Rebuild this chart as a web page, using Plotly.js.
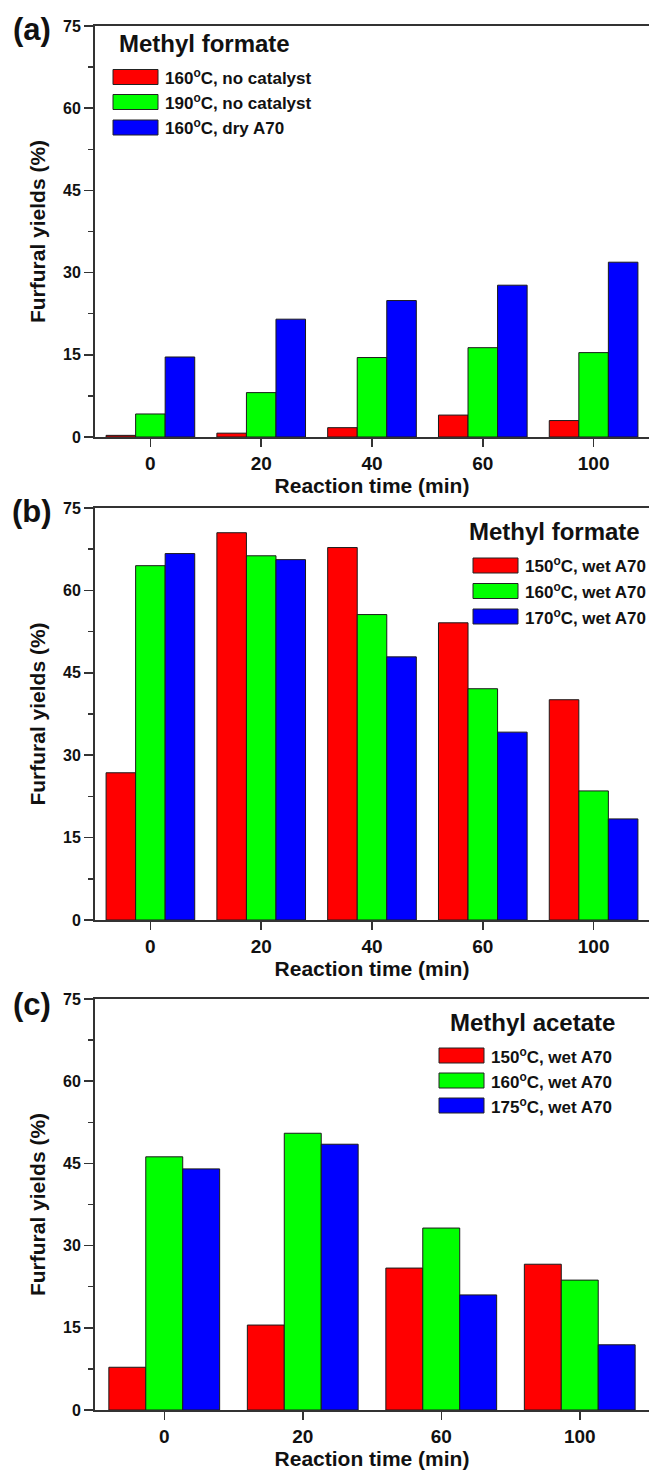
<!DOCTYPE html>
<html>
<head>
<meta charset="utf-8">
<script src="https://cdn.plot.ly/plotly-3.0.1.min.js"></script>
<style>
  html, body { margin: 0; padding: 0; background: #fff; }
  #chart { width: 649px; height: 1471px; }
</style>
</head>
<body>
<div id="chart"></div>
<script>
// Furfural yields over reaction time, three panels
const timesA = ['0', '20', '40', '60', '100'];
const timesB = ['0', '20', '40', '60', '100'];
const timesC = ['0', '20', '60', '100'];

// (a) Methyl formate, catalyst screening
const namesA = ['160<sup>o</sup>C, no catalyst', '190<sup>o</sup>C, no catalyst', '160<sup>o</sup>C, dry A70'];
const a160NoCat = [0.3, 0.7, 1.7, 4.0, 3.0];
const a190NoCat = [4.2, 8.1, 14.5, 16.3, 15.4];
const a160DryA70 = [14.6, 21.5, 24.9, 27.7, 31.9];

// (b) Methyl formate, wet A70
const namesB = ['150<sup>o</sup>C, wet A70', '160<sup>o</sup>C, wet A70', '170<sup>o</sup>C, wet A70'];
const b150Wet = [26.8, 70.5, 67.8, 54.1, 40.1];
const b160Wet = [64.5, 66.3, 55.6, 42.1, 23.5];
const b170Wet = [66.7, 65.6, 47.9, 34.2, 18.4];

// (c) Methyl acetate, wet A70
const namesC = ['150<sup>o</sup>C, wet A70', '160<sup>o</sup>C, wet A70', '175<sup>o</sup>C, wet A70'];
const c150Wet = [7.8, 15.5, 25.9, 26.6];
const c160Wet = [46.2, 50.5, 33.2, 23.7];
const c175Wet = [44.0, 48.5, 21.0, 11.9];

const panelTitles = ['Methyl formate', 'Methyl formate', 'Methyl acetate'];
const panelLetters = ['(a)', '(b)', '(c)'];
const xTitle = 'Reaction time (min)';
const yTitle = 'Furfural yields (%)';

// ---- layout helpers (pixel -> paper) ----
const W = 649, H = 1471, ML = 95, MR = 0;
const px = x => (x - ML) / (W - ML - MR);
const py = y => 1 - y / H;

const colors = ['#ff0000', '#00ff00', '#0000ff'];
const FONT = 'Liberation Sans, Arial, Helvetica, sans-serif';
const AXC = '#333333';

function bars(x, ys, names, xa, ya) {
  return ys.map((y, i) => ({
    type: 'bar', x: x, y: y, name: names[i], xaxis: xa, yaxis: ya,
    marker: { color: colors[i], line: { color: '#1a1a1a', width: 1 } },
    showlegend: false, hoverinfo: 'x+y'
  }));
}

const data = [].concat(
  bars(timesA, [a160NoCat, a190NoCat, a160DryA70], namesA, 'x', 'y'),
  bars(timesB, [b150Wet, b160Wet, b170Wet], namesB, 'x2', 'y2'),
  bars(timesC, [c150Wet, c160Wet, c175Wet], namesC, 'x3', 'y3')
);

// panel vertical extents in px (top, bottom)
const panels = [[26, 437], [508, 920], [999, 1410]];

function xAxis(anchor) {
  return {
    type: 'category', domain: [0, 1], anchor: anchor,
    showline: true, linecolor: AXC, linewidth: 2, mirror: true,
    ticks: 'outside', ticklen: 8, tickwidth: 1.5, tickcolor: AXC,
    tickfont: { family: FONT, size: 19, color: '#111', weight: 'bold' },
    showgrid: false, zeroline: false, fixedrange: true,
    title: { text: xTitle, font: { family: FONT, size: 21, color: '#111', weight: 'bold' }, standoff: 6 }
  };
}
function yAxis(anchor, p) {
  return {
    domain: [py(p[1]), py(p[0])], anchor: anchor,
    range: [0, 75], tick0: 0, dtick: 15,
    showline: true, linecolor: AXC, linewidth: 2, mirror: false,
    ticks: 'outside', ticklen: 9, tickwidth: 1.5, tickcolor: AXC,
    minor: { dtick: 7.5, ticks: 'outside', ticklen: 5, tickwidth: 1.5, tickcolor: AXC, showgrid: false },
    tickfont: { family: FONT, size: 16, color: '#111', weight: 'bold' },
    showgrid: false, zeroline: false, fixedrange: true,
    title: { text: yTitle, font: { family: FONT, size: 21, color: '#111', weight: 'bold' }, standoff: 12 }
  };
}

// legend keys drawn as boxes with labels (pixel layout per panel)
const legendSpec = [
  { names: namesA, title: panelTitles[0], titleX: 117, titleY: 44, boxX: 113, rows: [77, 102, 127.5] },
  { names: namesB, title: panelTitles[1], titleX: 467, titleY: 531, boxX: 473, rows: [565.5, 591, 616.5] },
  { names: namesC, title: panelTitles[2], titleX: 448, titleY: 1022, boxX: 439, rows: [1055.5, 1080.5, 1105.5] }
];

const shapes = [];
const annotations = [];
legendSpec.forEach(spec => {
  annotations.push({
    xref: 'paper', yref: 'paper', x: px(spec.titleX), y: py(spec.titleY),
    xanchor: 'left', yanchor: 'middle', showarrow: false,
    text: spec.title, font: { family: FONT, size: 24, color: '#111', weight: 'bold' }
  });
  spec.rows.forEach((ry, i) => {
    shapes.push({
      type: 'rect', xref: 'paper', yref: 'paper',
      x0: px(spec.boxX), x1: px(spec.boxX + 45), y0: py(ry + 7.5), y1: py(ry - 7.5),
      fillcolor: colors[i], line: { color: '#222', width: 1 }
    });
    annotations.push({
      xref: 'paper', yref: 'paper', x: px(spec.boxX + 50), y: py(ry),
      xanchor: 'left', yanchor: 'middle', showarrow: false,
      text: spec.names[i], font: { family: FONT, size: 17, color: '#111', weight: 'bold' }
    });
  });
});

// panel letters
[29.5, 512, 1004].forEach((cy, i) => {
  annotations.push({
    xref: 'paper', yref: 'paper', x: px(32), y: py(cy),
    xanchor: 'center', yanchor: 'middle', showarrow: false,
    text: panelLetters[i], font: { family: FONT, size: 31, color: '#111', weight: 'bold' }
  });
});

const layout = {
  width: W, height: H,
  margin: { l: ML, r: MR, t: 0, b: 0 },
  paper_bgcolor: '#fff', plot_bgcolor: '#fff',
  barmode: 'group', bargap: 0.2, bargroupgap: 0,
  showlegend: false,
  xaxis: xAxis('y'), yaxis: yAxis('x', panels[0]),
  xaxis2: xAxis('y2'), yaxis2: yAxis('x2', panels[1]),
  xaxis3: xAxis('y3'), yaxis3: yAxis('x3', panels[2]),
  shapes: shapes,
  annotations: annotations
};

Plotly.newPlot('chart', data, layout, { displayModeBar: false, staticPlot: true });
</script>
</body>
</html>
